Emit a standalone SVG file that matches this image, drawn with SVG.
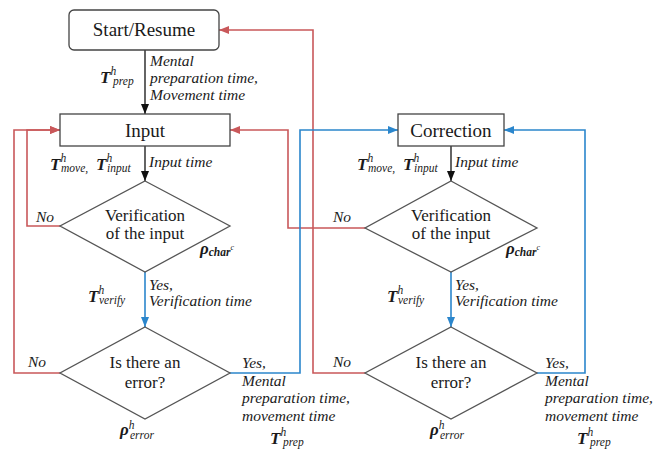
<svg xmlns="http://www.w3.org/2000/svg" width="661" height="452" viewBox="0 0 661 452" font-family="Liberation Serif, DejaVu Serif, serif">
<style>
.bg{fill:#fff}
.box{fill:#fff;stroke:#444;stroke-width:1.3}
.dia{fill:#fff;stroke:#555;stroke-width:1.3}
text{font-family:"Liberation Serif","DejaVu Serif",serif}
.nt{font-size:19px;fill:#1a1a1a;text-anchor:middle}
.dt{font-size:17px;fill:#1a1a1a;text-anchor:middle}
.lb{font-style:italic;font-size:15.5px;fill:#1a1a1a}
.m{font-style:italic;fill:#1a1a1a;font-size:11.5px}
.mb{font-weight:bold;font-size:17px}
.mss{font-size:8px}
.k{fill:none;stroke:#111;stroke-width:1.3}
.r{fill:none;stroke:#C9585A;stroke-width:1.6}
.b{fill:none;stroke:#2B86CC;stroke-width:1.6}
</style>
<defs>
<marker id="ak" markerUnits="userSpaceOnUse" markerWidth="10" markerHeight="10" viewBox="0 0 10 10" refX="10" refY="5" orient="auto"><path d="M0,1 L10,5 L0,9 z" fill="#111"/></marker>
<marker id="ar" markerUnits="userSpaceOnUse" markerWidth="10" markerHeight="10" viewBox="0 0 10 10" refX="10" refY="5" orient="auto"><path d="M0,1 L10,5 L0,9 z" fill="#C9585A"/></marker>
<marker id="ab" markerUnits="userSpaceOnUse" markerWidth="10" markerHeight="10" viewBox="0 0 10 10" refX="10" refY="5" orient="auto"><path d="M0,1 L10,5 L0,9 z" fill="#2B86CC"/></marker>
</defs>
<rect class="bg" x="0" y="0" width="661" height="452"/>

<g id="connectors">
<path class="k" d="M145,50 V114" marker-end="url(#ak)"/>
<path class="k" d="M145,146 V181" marker-end="url(#ak)"/>
<path class="k" d="M451,146 V181" marker-end="url(#ak)"/>
<path class="b" d="M145,272 V327" marker-end="url(#ab)"/>
<path class="b" d="M451,272 V327" marker-end="url(#ab)"/>
<path class="r" d="M60,226 H27 V130 H60" marker-end="url(#ar)"/>
<path class="r" d="M60,373 H14 V130 H60" marker-end="url(#ar)"/>
<path class="r" d="M365,228 H288 V130 H230" marker-end="url(#ar)"/>
<path class="r" d="M365,373 H313 V30 H219" marker-end="url(#ar)"/>
<path class="b" d="M230,373 H300 V130 H398" marker-end="url(#ab)"/>
<path class="b" d="M537,373 H585 V130 H504" marker-end="url(#ab)"/>
</g>

<g id="start">
<rect class="box" x="69" y="10" width="150" height="40" rx="5" stroke="#666"/>
<text class="nt" x="144" y="36">Start/Resume</text>
</g>
<g id="input">
<rect class="box" x="60" y="114" width="170" height="32"/>
<text class="nt" x="145" y="137">Input</text>
</g>
<g id="correction">
<rect class="box" x="398" y="114" width="106" height="32"/>
<text class="nt" x="451" y="137">Correction</text>
</g>
<g id="verify1">
<path class="dia" d="M145,181 L230,226 L145,272 L60,226 Z"/>
<text class="dt" x="145" y="221">Verification</text>
<text class="dt" x="145" y="239">of the input</text>
</g>
<g id="error1">
<path class="dia" d="M145,327 L230,373 L145,419 L60,373 Z"/>
<text class="dt" x="145" y="368">Is there an</text>
<text class="dt" x="145" y="388">error?</text>
</g>
<g id="verify2">
<path class="dia" d="M451,181 L537,228 L451,272 L365,228 Z"/>
<text class="dt" x="451" y="221">Verification</text>
<text class="dt" x="451" y="239">of the input</text>
</g>
<g id="error2">
<path class="dia" d="M451,327 L537,373 L451,419 L365,373 Z"/>
<text class="dt" x="451" y="368">Is there an</text>
<text class="dt" x="451" y="388">error?</text>
</g>

<g id="labels">
<text class="m" x="100" y="83"><tspan class="mb">T</tspan><tspan dy="-8">h</tspan><tspan x="113" dy="10">prep</tspan></text>
<text class="lb" x="150" y="66">Mental</text>
<text class="lb" x="150" y="83">preparation time,</text>
<text class="lb" x="150" y="100">Movement time</text>

<text class="m" x="50" y="170"><tspan class="mb">T</tspan><tspan dy="-8">h</tspan><tspan x="61" dy="10">move,</tspan><tspan class="mb" x="96" dy="-2">T</tspan><tspan dy="-8">h</tspan><tspan x="107" dy="10">input</tspan></text>
<text class="lb" x="149" y="167">Input time</text>

<text class="lb" x="36" y="222">No</text>
<text class="m" x="200" y="254"><tspan class="mb">ρ</tspan><tspan font-weight="bold" dy="2">char</tspan><tspan class="mss" dy="-6">c</tspan></text>

<text class="m" x="88" y="302"><tspan class="mb">T</tspan><tspan dy="-8">h</tspan><tspan x="99" dy="10">verify</tspan></text>
<text class="lb" x="149" y="290">Yes,</text>
<text class="lb" x="149" y="306">Verification time</text>

<text class="lb" x="28" y="367">No</text>
<text class="m" x="120" y="435"><tspan class="mb">ρ</tspan><tspan dy="-6">h</tspan><tspan x="130" dy="10">error</tspan></text>

<text class="lb" x="242" y="368">Yes,</text>
<text class="lb" x="242" y="386">Mental</text>
<text class="lb" x="242" y="403">preparation time,</text>
<text class="lb" x="242" y="421">movement time</text>
<text class="m" x="270" y="444"><tspan class="mb">T</tspan><tspan dy="-8">h</tspan><tspan x="283" dy="10">prep</tspan></text>

<text class="m" x="357" y="170"><tspan class="mb">T</tspan><tspan dy="-8">h</tspan><tspan x="368" dy="10">move,</tspan><tspan class="mb" x="403" dy="-2">T</tspan><tspan dy="-8">h</tspan><tspan x="414" dy="10">input</tspan></text>
<text class="lb" x="455" y="167">Input time</text>

<text class="lb" x="333" y="222">No</text>
<text class="m" x="506" y="254"><tspan class="mb">ρ</tspan><tspan font-weight="bold" dy="2">char</tspan><tspan class="mss" dy="-6">c</tspan></text>

<text class="m" x="387" y="302"><tspan class="mb">T</tspan><tspan dy="-8">h</tspan><tspan x="398" dy="10">verify</tspan></text>
<text class="lb" x="455" y="290">Yes,</text>
<text class="lb" x="455" y="306">Verification time</text>

<text class="lb" x="333" y="367">No</text>
<text class="m" x="430" y="435"><tspan class="mb">ρ</tspan><tspan dy="-6">h</tspan><tspan x="440" dy="10">error</tspan></text>

<text class="lb" x="545" y="368">Yes,</text>
<text class="lb" x="545" y="386">Mental</text>
<text class="lb" x="545" y="403">preparation time,</text>
<text class="lb" x="545" y="421">movement time</text>
<text class="m" x="577" y="444"><tspan class="mb">T</tspan><tspan dy="-8">h</tspan><tspan x="590" dy="10">prep</tspan></text>
</g>
</svg>
